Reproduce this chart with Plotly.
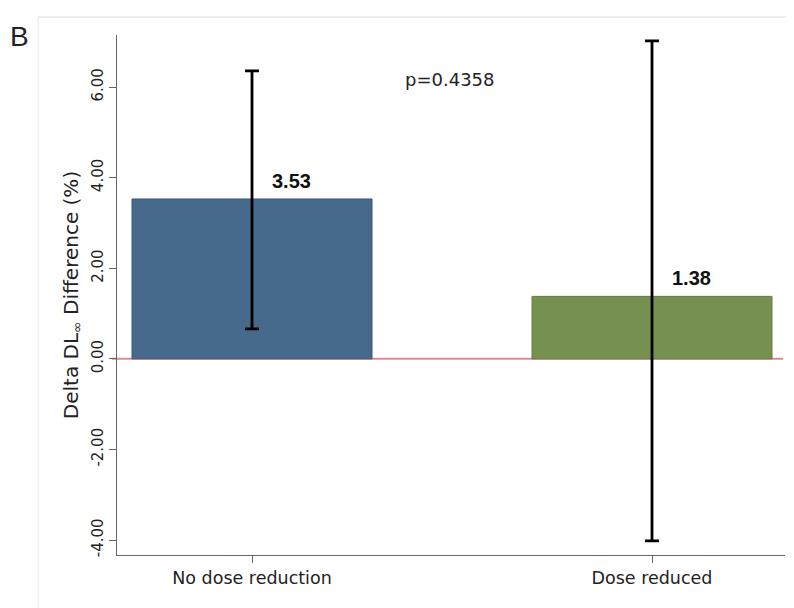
import plotly.graph_objects as go

categories = ["No dose reduction", "Dose reduced"]
means = [3.53, 1.38]
upper = [6.36, 7.02]
lower = [0.66, -4.02]
labels = ["3.53", "1.38"]
bar_colors = ["#47698b", "#76914f"]
edge_colors = ["#3a5877", "#637c42"]
yticks = [-4, -2, 0, 2, 4, 6]
p_text = "p=0.4358"

x_pos = list(range(len(categories)))
err_plus = [u - m for u, m in zip(upper, means)]
err_minus = [m - l for m, l in zip(means, lower)]

FONT = "DejaVu Sans, Verdana, sans-serif"

fig = go.Figure()
fig.add_trace(go.Bar(
    x=x_pos, y=means, width=0.6,
    marker=dict(color=bar_colors, line=dict(color=edge_colors, width=1)),
    error_y=dict(type="data", symmetric=False, array=err_plus, arrayminus=err_minus,
                 color="black", thickness=2.8, width=7),
    showlegend=False, hoverinfo="skip",
))

for xi, m, t in zip(x_pos, means, labels):
    fig.add_annotation(x=xi, y=m, text="<b>%s</b>" % t, showarrow=False,
                       xanchor="left", yanchor="bottom", xshift=18, yshift=5,
                       font=dict(family="Liberation Sans, Arial", size=20, color="#111"))

fig.add_annotation(x=0.495, y=6.16, text=p_text, showarrow=False,
                   font=dict(family=FONT, size=18, color="#222"))

fig.add_annotation(xref="paper", yref="paper", x=-0.1467, y=0.998, text="B",
                   showarrow=False, xanchor="center", yanchor="middle",
                   font=dict(family="Liberation Sans, Arial", size=28, color="#222"))

# zero reference line
fig.add_shape(type="line", xref="paper", yref="y", x0=-0.0075, x1=0.997, y0=0, y1=0,
              line=dict(color="#e08a98", width=2), layer="below")

# faint frame lines around the panel
fig.add_shape(type="line", xref="paper", yref="paper", x0=-0.118, x1=1.03, y0=1.0346, y1=1.0346,
              line=dict(color="#eeeeee", width=2))
fig.add_shape(type="line", xref="paper", yref="paper", x0=-0.118, x1=-0.118, y0=-0.13, y1=1.0346,
              line=dict(color="#f2f2f2", width=2))

fig.update_layout(
    width=794, height=608,
    margin=dict(l=109, r=17, t=27, b=61),
    paper_bgcolor="white", plot_bgcolor="white",
    font=dict(family=FONT, size=15, color="#222"),
)
fig.update_xaxes(
    range=[-0.3375, 1.3325], tickmode="array", tickvals=x_pos, ticktext=categories,
    showline=True, linecolor="#666", linewidth=1, ticks="outside", ticklen=7,
    tickcolor="#666", showgrid=False, zeroline=False,
    tickfont=dict(family=FONT, size=17.5, color="#222"),
)
fig.update_yaxes(
    range=[-4.33, 7.15], tickmode="array", tickvals=yticks,
    ticktext=["%.2f" % v for v in yticks], tickangle=-90,
    showline=True, linecolor="#666", linewidth=1, ticks="outside", ticklen=7,
    tickcolor="#666", showgrid=False, zeroline=False,
    tickfont=dict(family=FONT, size=15, color="#222"),
    title=dict(text="Delta DL<sub>∞</sub> Difference (%)",
               font=dict(family=FONT, size=20, color="#222"), standoff=5),
)

fig.write_html("out.html")
